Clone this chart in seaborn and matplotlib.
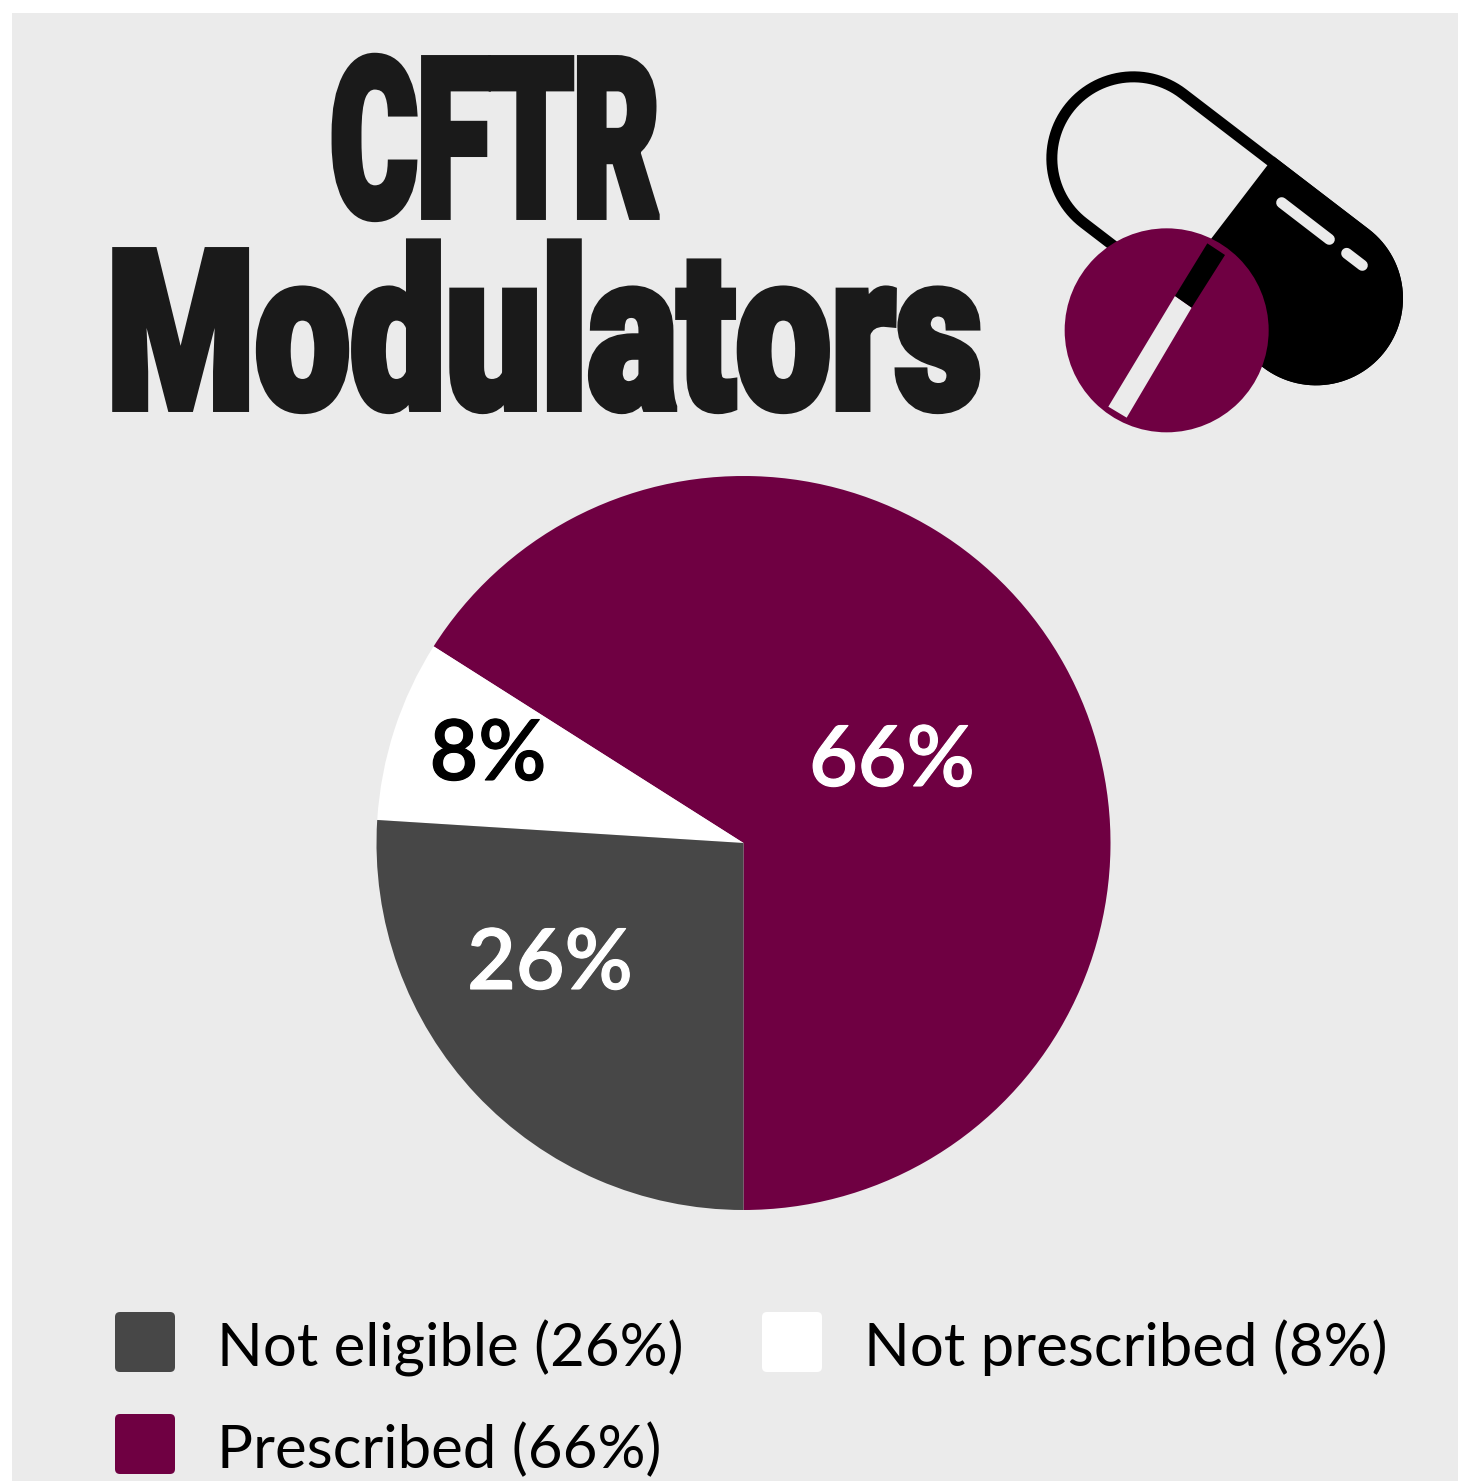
import numpy as np
import matplotlib
matplotlib.use("Agg")
import matplotlib.pyplot as plt
import matplotlib.patheffects as pe
from matplotlib.patches import Rectangle, FancyBboxPatch, Circle, Polygon
from matplotlib.transforms import Affine2D
import seaborn as sns

categories = ["Prescribed", "Not prescribed", "Not eligible"]
shares = [66, 8, 26]
colors = ["#6F0042", "#FFFFFF", "#474747"]
label_colors = ["#FFFFFF", "#000000", "#FFFFFF"]
title_lines = ["CFTR", "Modulators"]
legend_order = ["Not eligible", "Not prescribed", "Prescribed"]

W, H = 1458, 1481
BG = "#EBEBEB"
sns.set_theme(style="white")
plt.rcParams["font.family"] = ["Lato", "DejaVu Sans"]
palette = sns.color_palette(colors)

fig = plt.figure(figsize=(W / 100, H / 100), dpi=100, facecolor="white")

bg = fig.add_axes([0, 0, 1, 1], zorder=0)
bg.set_xlim(0, W); bg.set_ylim(H, 0); bg.axis("off")
bg.add_patch(Rectangle((12, 13), W - 12, H - 13, fc=BG, ec="none"))


class Reshape(pe.AbstractPathEffect):
    """Scale glyph outlines about the text anchor, then stroke them."""
    def __init__(self, sx, sy, x0, y0, lw):
        super().__init__()
        self.sx, self.sy, self.x0, self.y0, self.lw = sx, sy, x0, y0, lw

    def draw_path(self, renderer, gc, tpath, affine, rgbFace=None):
        gc0 = renderer.new_gc()
        gc0.copy_properties(gc)
        gc0.set_linewidth(self.lw)
        gc0.set_foreground(rgbFace)
        gc0.set_joinstyle("miter")
        shaped = affine + (Affine2D().translate(-self.x0, -self.y0)
                           .scale(self.sx, self.sy).translate(self.x0, self.y0))
        renderer.draw_path(gc0, tpath, shaped, rgbFace)
        gc0.restore()


rend = fig.canvas.get_renderer()
base_size, drawn_size = 100, 160
for line, tx, by, target in zip(title_lines, [495, 544], [216.5, 408.5], [329, 875]):
    t = bg.text(tx, by, line, ha="center", va="baseline", color="#1A1A1A",
                family=["Roboto", "DejaVu Sans"], weight="black", fontsize=base_size)
    natural = t.get_window_extent(rend).width
    t.set_path_effects([Reshape(target / natural, drawn_size / base_size, tx, H - by, 5)])


def z(p):
    p = np.asarray(p, float)
    return p / 3 + np.array([1030, 50])


c1, c2 = z((310, 325)), z((858, 745))
r_out = 87.0
lw_px = 11.0
u = (c2 - c1) / np.linalg.norm(c2 - c1)
ang = np.degrees(np.arctan2(u[1], u[0]))
n = np.array([-u[1], u[0]])
a1 = np.radians(np.linspace(ang + 90, ang + 270, 60))
a2 = np.radians(np.linspace(ang - 90, ang + 90, 60))


def capsule_pts(r):
    return np.vstack([c1 + r * np.c_[np.cos(a1), np.sin(a1)],
                      c2 + r * np.c_[np.cos(a2), np.sin(a2)]])


bg.add_patch(Polygon(capsule_pts(r_out - lw_px / 2), closed=True, fc=BG, ec="black",
                     lw=lw_px * 0.72, zorder=2))
d0 = c1 + u * 332 / 3
half = np.vstack([d0 - n * r_out, c2 + r_out * np.c_[np.cos(a2), np.sin(a2)], d0 + n * r_out])
bg.add_patch(Polygon(half, closed=True, fc="black", ec="none", zorder=3))
for p, q in [((755, 458), (898, 568)), ((950, 610), (997, 646))]:
    a, b = z(p), z(q)
    bg.plot([a[0], b[0]], [a[1], b[1]], color=BG, lw=11 * 0.72,
            solid_capstyle="round", zorder=4)
bg.add_patch(Circle(z((410, 841)), 102, fc=colors[0], ec="none", zorder=5))
bg.add_patch(Polygon(z([(235, 1070), (290, 1103), (485, 773), (435, 738)]), closed=True,
                     fc=BG, ec="none", zorder=6))
bg.add_patch(Polygon(z([(435, 738), (485, 773), (585, 615), (532, 580)]), closed=True,
                     fc="black", ec="none", zorder=6))

cx, cy, R = 743.5, 843, 367
ax = fig.add_axes([(cx - R) / W, 1 - (cy + R) / H, 2 * R / W, 2 * R / H], zorder=1)
ax.pie(shares, colors=palette, startangle=270, counterclock=True, radius=1,
       wedgeprops=dict(linewidth=0))
ax.set_xlim(-1, 1); ax.set_ylim(-1, 1); ax.set_aspect("equal"); ax.axis("off")
for lab, (lx, ly), col in zip(shares, [(892, 762), (488, 756), (550, 965)], label_colors):
    fig.text(lx / W, 1 - ly / H, f"{lab}%", color=col, ha="center", va="center",
             fontsize=60.5, weight="semibold", zorder=5,
             path_effects=[pe.withStroke(linewidth=0.8, foreground=col)])

share_of = dict(zip(categories, shares))
col_of = dict(zip(categories, colors))
for name, (sx, sy) in zip(legend_order, [(115, 1312), (762, 1312), (115, 1414)]):
    bg.add_patch(FancyBboxPatch((sx + 4, sy + 4), 52, 52, boxstyle="round,pad=4,rounding_size=5",
                                fc=col_of[name], ec="none", zorder=2))
    bg.text(sx + 102, sy + 54.5, f"{name} ({share_of[name]}%)", color="black", fontsize=43.2,
            va="baseline", ha="left", zorder=3)

fig.savefig("out.png", dpi=100, facecolor="white")
